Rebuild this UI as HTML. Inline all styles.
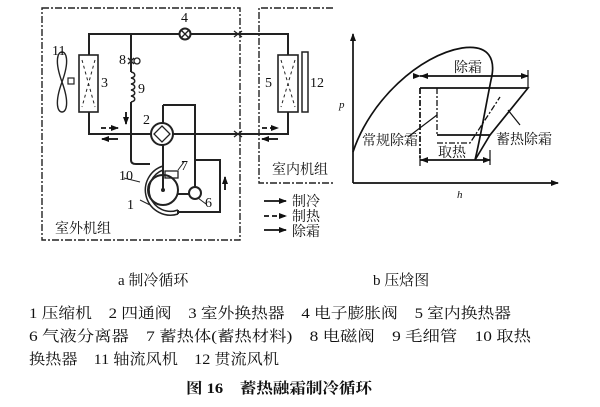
<!DOCTYPE html>
<html><head><meta charset="utf-8"><style>
html,body{margin:0;padding:0;background:#fff}
svg{display:block}
text{font-family:"Liberation Serif","Noto Serif CJK SC",serif;fill:#111}
</style></head><body>
<svg width="600" height="407" viewBox="0 0 600 407" xmlns="http://www.w3.org/2000/svg">
<defs>
<marker id="ah" markerWidth="8" markerHeight="8" refX="7" refY="4" orient="auto" markerUnits="userSpaceOnUse"><path d="M0,1 L8,4 L0,7 Z" fill="#111"/></marker>
</defs>
<g stroke="#222" fill="none" stroke-width="2">
<rect x="42" y="8" width="198" height="232" stroke-dasharray="7,2,2,2" stroke-width="1.4"/>
<path d="M333,8 H259 V183 H333" stroke-dasharray="7,2,2,2" stroke-width="1.4"/>
<path d="M89,55 V34 H288 V55"/>
<path d="M89,112 V134 H288 V112"/>
<rect x="79" y="55" width="19" height="57" stroke-width="1.6"/>
<path d="M82,60 L95,107 M95,60 L82,107" stroke-dasharray="3,3" stroke-width="1"/>
<rect x="278" y="55" width="20" height="57" stroke-width="1.6"/>
<path d="M281,60 L295,107 M295,60 L281,107" stroke-dasharray="3,3" stroke-width="1"/>
<rect x="302" y="52" width="6" height="60" stroke-width="1.5"/>
<path d="M62,82 C54,60 58,52 62,52 C66,52 70,60 62,82 C54,104 58,112 62,112 C66,112 70,104 62,82 Z" stroke-width="1.4"/>
<rect x="68" y="78" width="6" height="6" stroke-width="1.2"/>
<circle cx="185" cy="34" r="5.5" fill="#fff"/>
<path d="M181,30 L189,38 M189,30 L181,38" stroke-width="1.3"/>
<path d="M234,31 L242,37 M234,37 L242,31" stroke-width="1.3"/>
<path d="M234,131 L242,137 M234,137 L242,131" stroke-width="1.3"/>
<path d="M131,34 V72 M131,102 V160 Q131,164 136,164 H150"/>
<path d="M128,58 L134,64 M134,58 L128,64" stroke-width="1.4"/>
<circle cx="137" cy="61" r="3" stroke-width="1.3"/>
<path d="M131,72 c5,1 5,5 0,6 c5,1 5,5 0,6 c5,1 5,5 0,6 c5,1 5,5 0,6 c5,1 5,5 0,6" stroke-width="1.5"/>
<path d="M163,105 H195 V190"/>
<path d="M163,105 V190"/>
<circle cx="162" cy="134" r="11" fill="#fff"/>
<path d="M162,126 L170,134 L162,142 L154,134 Z" stroke-width="1.3"/>
<circle cx="163" cy="190" r="15"/>
<path d="M163,170 A20,20 0 1 0 178,210" stroke-width="1.5"/>
<path d="M163,166 A24,24 0 1 0 178,214" stroke-width="1.5"/>
<path d="M178,210 V214"/>
<path d="M178,212 H220 V160 H195"/>
<rect x="165" y="171" width="13" height="7" stroke-width="1.3"/>
<circle cx="195" cy="193" r="6" fill="#fff"/>
<path d="M178,194 H189"/>
<path d="M198,198 L206,204" stroke-width="1"/>
<path d="M150,205 L140,200" stroke-width="1"/>
<path d="M124,178 L140,182" stroke-width="1"/>
<path d="M178,170 L184,162" stroke-width="1"/>
</g>
<circle cx="163" cy="190" r="2" fill="#222"/>
<g stroke="#111" stroke-width="1.8" fill="none">
<path d="M101,128 H118" stroke-dasharray="5,3" marker-end="url(#ah)"/>
<path d="M118,139 H102" marker-end="url(#ah)"/>
<path d="M262,128 H278" stroke-dasharray="5,3" marker-end="url(#ah)"/>
<path d="M278,139 H262" marker-end="url(#ah)"/>
<path d="M126,112 V124" marker-end="url(#ah)"/>
<path d="M225,190 V177" marker-end="url(#ah)"/>
<path d="M264,201 H286" marker-end="url(#ah)"/>
<path d="M264,216 H286" stroke-dasharray="5,3" marker-end="url(#ah)"/>
<path d="M264,230 H286" marker-end="url(#ah)"/>
</g>
<g font-size="14">
<text x="181" y="22">4</text>
<text x="52" y="55">11</text>
<text x="101" y="87">3</text>
<text x="119" y="64">8</text>
<text x="138" y="93">9</text>
<text x="143" y="124">2</text>
<text x="265" y="87">5</text>
<text x="310" y="87">12</text>
<text x="181" y="170">7</text>
<text x="119" y="180">10</text>
<text x="127" y="209">1</text>
<text x="205" y="207">6</text>
</g>
<g font-size="14" font-family="Liberation Sans,Noto Sans CJK SC,sans-serif">
<text x="272" y="174">室内机组</text>
<text x="55" y="233">室外机组</text>
<text x="292" y="206">制冷</text>
<text x="292" y="221">制热</text>
<text x="292" y="236">除霜</text>
</g>
<g stroke="#111" fill="none" stroke-width="1.7">
<path d="M353,183 V34" marker-end="url(#ah)"/>
<path d="M353,183 H558" marker-end="url(#ah)"/>
<path d="M353,152 C370,100 420,55 462,48 C490,44 496,60 491,80 C485,110 480,140 475,160"/>
<path d="M420,88 H528 L490,135 H437"/>
<path d="M420,88 V160" stroke-dasharray="6,2,2,2"/>
<path d="M437,88 V135" stroke-dasharray="6,2,2,2" stroke-width="1.3"/>
<path d="M437,143 H470 L500,97" stroke-dasharray="6,2,2,2" stroke-width="1.3"/>
<path d="M475,160 L490,135"/>
<path d="M420,76 H528" marker-end="url(#ah)" marker-start="url(#ah)"/>
<path d="M420,160 H490" marker-end="url(#ah)"/>
<path d="M528,70 V88 M490,150 V165 M420,155 V166" stroke-width="1.2"/>
<path d="M408,137 L437,115" stroke-width="1.2"/>
<path d="M508,110 L520,125" stroke-width="1.2"/>
</g>
<path d="M420,160 L428,157 L428,163 Z" fill="#111"/>
<path d="M420,76 L428,73 L428,79 Z" fill="#111"/>
<g font-size="14">
<text x="454" y="72">除霜</text>
<text x="362" y="145">常规除霜</text>
<text x="496" y="144">蓄热除霜</text>
<text x="438" y="157">取热</text>
<text x="339" y="108" font-style="italic" font-size="11">p</text>
<text x="457" y="198" font-style="italic" font-size="11">h</text>
</g>
<g font-size="15">
<text x="118" y="285">a 制冷循环</text>
<text x="373" y="285">b 压焓图</text>
<text x="29" y="318" textLength="482" lengthAdjust="spacingAndGlyphs">1 压缩机　2 四通阀　3 室外换热器　4 电子膨胀阀　5 室内换热器</text>
<text x="29" y="341" textLength="502" lengthAdjust="spacingAndGlyphs">6 气液分离器　7 蓄热体(蓄热材料)　8 电磁阀　9 毛细管　10 取热</text>
<text x="29" y="364" textLength="250" lengthAdjust="spacingAndGlyphs">换热器　11 轴流风机　12 贯流风机</text>
</g>
<text x="186" y="393" font-size="15" font-weight="bold" font-family="Liberation Sans,Noto Sans CJK SC,sans-serif" textLength="186" lengthAdjust="spacingAndGlyphs">图 16　蓄热融霜制冷循环</text>
</svg>
</body></html>
